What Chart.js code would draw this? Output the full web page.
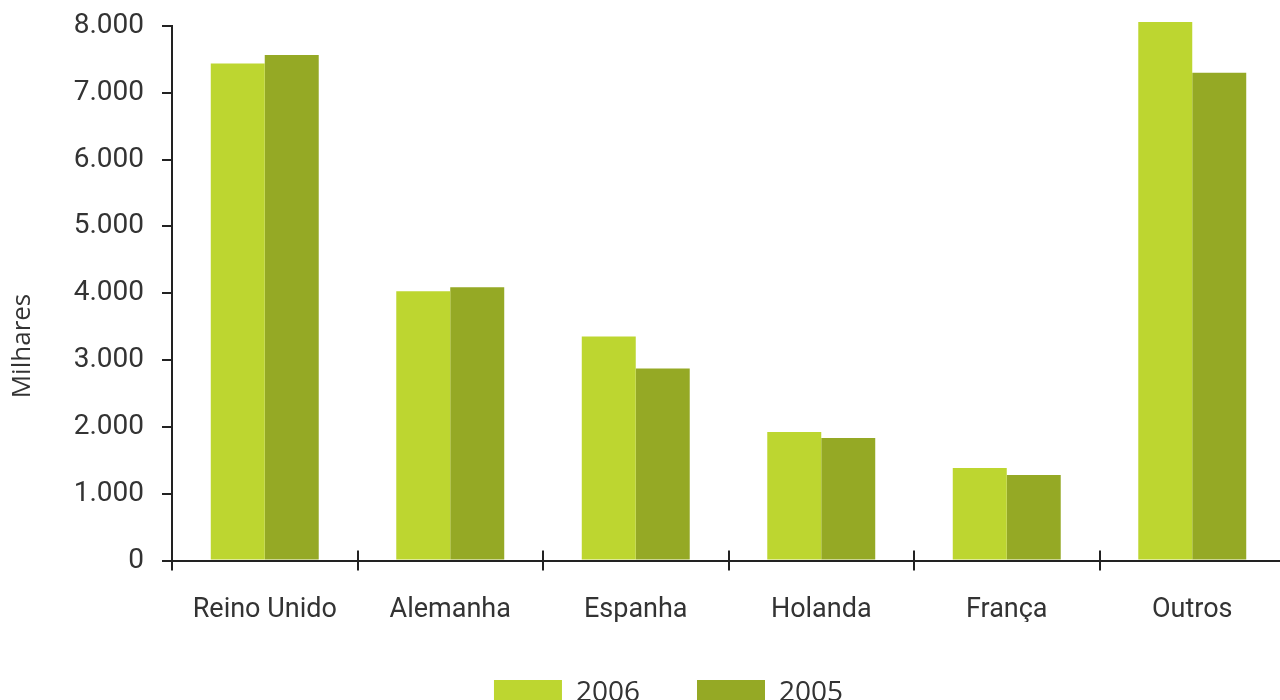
<!DOCTYPE html>
<html>
<head>
<meta charset="utf-8">
<script src="https://cdn.jsdelivr.net/npm/chart.js@4"></script>
<style>
html,body{margin:0;padding:0;overflow:hidden;background:#fff;width:1280px;height:700px;}
#wrap{position:absolute;left:0;top:0;width:1300px;height:717px;}
</style>
</head>
<body>
<div id="wrap"><canvas id="c" width="1300" height="717"></canvas></div>
<script>
const categories = ["Reino Unido", "Alemanha", "Espanha", "Holanda", "França", "Outros"];
const seriesLabels = ["2006", "2005"];
const values2006 = [7440, 4030, 3355, 1925, 1385, 8060];
const values2005 = [7565, 4090, 2875, 1835, 1280, 7300];
const yTickValues = [0, 1000, 2000, 3000, 4000, 5000, 6000, 7000, 8000];
const yTitle = "Milhares";
const colors = ["#BDD630", "#95A925"];

function fmt(v){ return String(v).replace(/\B(?=(\d{3})+(?!\d))/g, "."); }

const upperTicks = {
  id: "upperTicks",
  afterDraw(chart){
    const ctx = chart.ctx, xs = chart.scales.x, ca = chart.chartArea;
    ctx.save();
    ctx.strokeStyle = "#222"; ctx.lineWidth = 2;
    for (let i = 0; i <= categories.length; i++){
      const px = Math.round(xs.getPixelForValue(i - 0.5));
      ctx.beginPath(); ctx.moveTo(px, ca.bottom - 10); ctx.lineTo(px, ca.bottom); ctx.stroke();
    }
    ctx.translate(23, 346);
    ctx.rotate(-Math.PI/2);
    ctx.fillStyle = "#333";
    ctx.font = "26px 'Open Sans'";
    ctx.textAlign = "center"; ctx.textBaseline = "middle";
    ctx.fillText(yTitle, 0, 0);
    ctx.restore();
  }
};

new Chart(document.getElementById("c"), {
  type: "bar",
  data: {
    labels: categories,
    datasets: [
      {label: seriesLabels[0], data: values2006, backgroundColor: colors[0], clip: false,
       barPercentage: 1, categoryPercentage: 0.582},
      {label: seriesLabels[1], data: values2005, backgroundColor: colors[1], clip: false,
       barPercentage: 1, categoryPercentage: 0.582}
    ]
  },
  options: {
    responsive: false,
    animation: false,
    layout: {padding: {left: 52, right: 15, top: 0, bottom: 0}},
    plugins: {
      legend: {
        position: "bottom",
        labels: {
          font: {family: "'Open Sans'", size: 28},
          color: "#333",
          boxWidth: 68, boxHeight: 26,
          padding: 57
        }
      },
      tooltip: {enabled: false}
    },
    scales: {
      x: {
        grid: {offset: true, drawOnChartArea: false, drawTicks: true, tickLength: 10, color: "#222", lineWidth: 2},
        border: {color: "#222", width: 2},
        ticks: {font: {family: "Roboto", size: 27}, color: "#333", padding: 23},
        afterFit(s){ s.height -= 27; }
      },
      y: {
        min: 0, max: 8000,
        afterBuildTicks(s){ s.ticks = yTickValues.map(v => ({value: v})); },
        afterFit(s){ s.width = 120; },
        grid: {drawOnChartArea: false, drawTicks: true, tickLength: 10, color: "#222", lineWidth: 2},
        border: {color: "#222", width: 2},
        ticks: {font: {family: "Roboto", size: 28, lineHeight: 0.57}, color: "#333", padding: 18, callback: v => fmt(v)}
      }
    }
  },
  plugins: [upperTicks]
});
</script>
</body>
</html>
